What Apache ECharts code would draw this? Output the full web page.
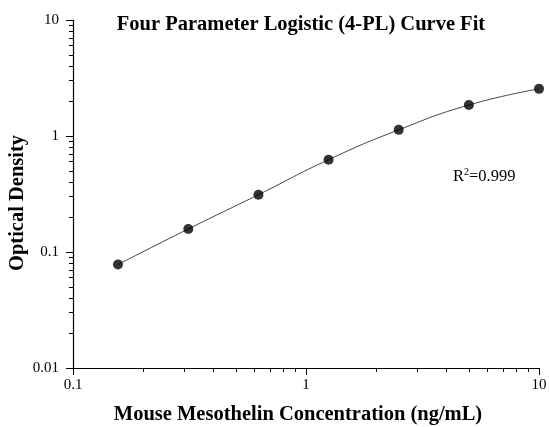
<!DOCTYPE html>
<html>
<head>
<meta charset="utf-8">
<script src="https://cdn.jsdelivr.net/npm/echarts@6/dist/echarts.min.js"></script>
<style>
  html, body { margin: 0; padding: 0; background: #fff; }
  #chart { width: 549px; height: 427px; }
</style>
</head>
<body>
<div id="chart"></div>
<script>
// standards: concentration (ng/mL) vs optical density
var concentration = [0.156, 0.3125, 0.625, 1.25, 2.5, 5, 10];
var opticalDensity = [0.078, 0.158, 0.312, 0.625, 1.13, 1.85, 2.55];
var xMinorTicks = [0.2, 0.3, 0.4, 0.5, 0.6, 0.7, 0.8, 0.9, 2, 3, 4, 5, 6, 7, 8, 9];
var yMinorTicks = [0.02, 0.03, 0.04, 0.05, 0.06, 0.07, 0.08, 0.09,
  0.2, 0.3, 0.4, 0.5, 0.6, 0.7, 0.8, 0.9, 2, 3, 4, 5, 6, 7, 8, 9];
var r2Text = '0.999';

var serif = '"Liberation Serif", "DejaVu Serif", serif';
var points = concentration.map(function (c, i) { return [c, opticalDensity[i]]; });

var chart = echarts.init(document.getElementById('chart'));

var axisLine = { show: true, lineStyle: { color: '#000', width: 1.2 } };
var nameStyle = { fontFamily: serif, fontSize: 20.5, fontWeight: 'bold', color: '#000' };

chart.setOption({
  animation: false,
  title: {
    text: 'Four Parameter Logistic (4-PL) Curve Fit',
    left: 296,
    top: 9,
    textAlign: 'center',
    textStyle: nameStyle
  },
  grid: { left: 73, right: 10, top: 20, bottom: 59, containLabel: false, outerBoundsMode: 'none' },
  xAxis: [{
    type: 'log', logBase: 10, min: 0.1, max: 10,
    name: 'Mouse Mesothelin Concentration (ng/mL)',
    nameLocation: 'middle', nameGap: 36,
    nameTextStyle: Object.assign({ padding: [0, 16, 0, 0] }, nameStyle),
    axisLine: axisLine,
    axisTick: { show: true, length: 7, lineStyle: { color: '#000' } },
    axisLabel: { fontFamily: serif, fontSize: 15, color: '#000', margin: 10 },
    splitLine: { show: false }
  }, {
    type: 'log', logBase: 10, min: 0.1, max: 10, position: 'bottom',
    axisLine: { show: false },
    axisTick: { show: true, length: 4, customValues: xMinorTicks, lineStyle: { color: '#000' } },
    axisLabel: { show: false },
    splitLine: { show: false }
  }],
  yAxis: [{
    type: 'log', logBase: 10, min: 0.01, max: 10,
    name: 'Optical Density',
    nameLocation: 'middle', nameGap: 45,
    nameMoveOverlap: false,
    nameTextStyle: Object.assign({ padding: [0, 18, 0, 0] }, nameStyle),
    axisLine: axisLine,
    axisTick: { show: true, length: 7, lineStyle: { color: '#000' } },
    axisLabel: { fontFamily: serif, fontSize: 15, color: '#000', margin: 14 },
    splitLine: { show: false }
  }, {
    type: 'log', logBase: 10, min: 0.01, max: 10, position: 'left',
    axisLine: { show: false },
    axisTick: { show: true, length: 4, customValues: yMinorTicks, lineStyle: { color: '#000' } },
    axisLabel: { show: false },
    splitLine: { show: false }
  }],
  graphic: [{
    type: 'text',
    left: 453,
    top: 167,
    style: {
      text: '{b|R}{s|2}{b|=' + r2Text + '}',
      rich: {
        b: { fontFamily: serif, fontSize: 16.5, color: '#000', verticalAlign: 'bottom' },
        s: { fontFamily: serif, fontSize: 10, color: '#000', verticalAlign: 'top', padding: [0, 0, 8, 0] }
      }
    }
  }],
  series: [{
    name: 'fit',
    type: 'line',
    data: points,
    smooth: true,
    showSymbol: false,
    lineStyle: { color: '#444', width: 1 },
    z: 2
  }, {
    name: 'standards',
    type: 'scatter',
    data: points,
    symbol: 'circle',
    symbolSize: 10,
    itemStyle: { color: '#000' },
    z: 3
  }]
});
</script>
</body>
</html>
